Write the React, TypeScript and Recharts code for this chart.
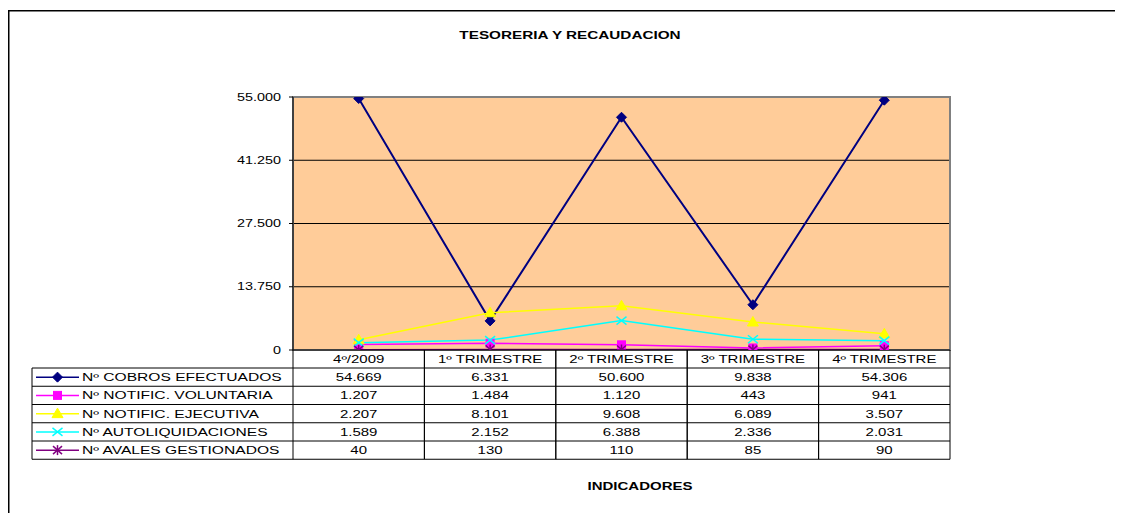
import React from 'react';
import { LineChart, Line, XAxis, YAxis, CartesianGrid, ReferenceArea } from 'recharts';

const categories = ['4º/2009', '1º TRIMESTRE', '2º TRIMESTRE', '3º TRIMESTRE', '4º TRIMESTRE'];
const cobros = [54669, 6331, 50600, 9838, 54306];
const voluntaria = [1207, 1484, 1120, 443, 941];
const ejecutiva = [2207, 8101, 9608, 6089, 3507];
const autoliq = [1589, 2152, 6388, 2336, 2031];
const avales = [40, 130, 110, 85, 90];
const yTicks = [0, 13750, 27500, 41250, 55000];
const gridValues = [13750, 27500, 41250];
const seriesNames = ['Nº COBROS EFECTUADOS', 'Nº NOTIFIC. VOLUNTARIA', 'Nº NOTIFIC. EJECUTIVA', 'Nº AUTOLIQUIDACIONES', 'Nº AVALES GESTIONADOS'];
const seriesColors = ['#000080', '#FF00FF', '#FFFF00', '#00FFFF', '#800080'];
const seriesShapes = ['diamond', 'square', 'triangle', 'x', 'asterisk'];
const seriesValues = [cobros, voluntaria, ejecutiva, autoliq, avales];
const title = 'TESORERIA Y RECAUDACION';
const xTitle = 'INDICADORES';

const data = categories.map((c, i) => {
  const row: any = { cat: c };
  seriesValues.forEach((vals, s) => { row['s' + s] = vals[i]; });
  return row;
});

const W = 1115;
const H = 505;
const PLOT_LEFT = 285;
const PLOT_RIGHT = 942;
const PLOT_TOP = 89;
const PLOT_BOTTOM = 342;
const YAXIS_W = 80;
const XAXIS_H = 110;
const BW = (PLOT_RIGHT - PLOT_LEFT) / categories.length;
const HEADER_H = 18;
const ROW_H = 18.25;
const LEGEND_W = 261;
const FONT = 'Liberation Sans, Arial, sans-serif';
const SX = 1.5;

const fmt = (n: number) => String(n).replace(/\B(?=(\d{3})+(?!\d))/g, '.');

const ST = ({ x, y, anchor = 'middle', bold = false, size = 10, sx = SX, children }: any) => (
  <text
    transform={`translate(${x},${y}) scale(${sx},1)`}
    textAnchor={anchor}
    fontSize={size}
    fontFamily={FONT}
    fontWeight={bold ? 'bold' : 'normal'}
    fill="#000"
  >
    {children}
  </text>
);

const Marker = ({ shape, cx, cy, color }: any) => {
  if (cx == null || cy == null) return <g />;
  switch (shape) {
    case 'diamond':
      return <polygon points={`${cx},${cy - 5} ${cx + 5},${cy} ${cx},${cy + 5} ${cx - 5},${cy}`} fill={color} stroke={color} />;
    case 'square':
      return <rect x={cx - 4} y={cy - 4} width={8} height={8} fill={color} stroke={color} />;
    case 'triangle':
      return <polygon points={`${cx},${cy - 5.5} ${cx + 5.5},${cy + 4} ${cx - 5.5},${cy + 4}`} fill={color} stroke={color} />;
    case 'x':
      return (
        <g stroke={color} strokeWidth={1.5}>
          <line x1={cx - 5} y1={cy - 4} x2={cx + 5} y2={cy + 4} />
          <line x1={cx - 5} y1={cy + 4} x2={cx + 5} y2={cy - 4} />
        </g>
      );
    default:
      return (
        <g stroke={color} strokeWidth={1.5}>
          <line x1={cx - 4.5} y1={cy - 4} x2={cx + 4.5} y2={cy + 4} />
          <line x1={cx - 4.5} y1={cy + 4} x2={cx + 4.5} y2={cy - 4} />
          <line x1={cx} y1={cy - 5} x2={cx} y2={cy + 5} />
        </g>
      );
  }
};

const TableTick = (props: any) => {
  const { x, y, payload } = props;
  const i = categories.indexOf(payload.value);
  const left = x - BW / 2;
  const right = x + BW / 2;
  const bottom = y + HEADER_H + seriesNames.length * ROW_H;
  const els: any[] = [];
  els.push(<line key="vl" x1={left} y1={y} x2={left} y2={bottom} stroke="#000" strokeWidth={1} />);
  els.push(<line key="vr" x1={right} y1={y} x2={right} y2={bottom} stroke="#000" strokeWidth={1} />);
  for (let r = 0; r <= seriesNames.length; r++) {
    const ly = y + HEADER_H + r * ROW_H;
    els.push(<line key={'h' + r} x1={left} y1={ly} x2={right} y2={ly} stroke="#000" strokeWidth={1} />);
  }
  els.push(<ST key="hd" x={x} y={y + 13}>{payload.value}</ST>);
  seriesValues.forEach((vals, s) => {
    els.push(<ST key={'v' + s} x={x} y={y + HEADER_H + s * ROW_H + 13}>{fmt(vals[i])}</ST>);
  });
  if (i === 0) {
    const lx = left - LEGEND_W;
    els.push(<line key="lvl" x1={lx} y1={y + HEADER_H} x2={lx} y2={bottom} stroke="#000" strokeWidth={1} />);
    for (let r = 0; r <= seriesNames.length; r++) {
      const ly = y + HEADER_H + r * ROW_H;
      els.push(<line key={'lh' + r} x1={lx} y1={ly} x2={left} y2={ly} stroke="#000" strokeWidth={1} />);
    }
    seriesNames.forEach((name, s) => {
      const cy = y + HEADER_H + s * ROW_H + ROW_H / 2;
      els.push(<line key={'ll' + s} x1={lx + 4} y1={cy} x2={lx + 47} y2={cy} stroke={seriesColors[s]} strokeWidth={1.5} />);
      els.push(<g key={'lm' + s}><Marker shape={seriesShapes[s]} cx={lx + 25.5} cy={cy} color={seriesColors[s]} /></g>);
      els.push(<ST key={'ln' + s} x={lx + 50} y={cy + 4} anchor="start" sx={1.56}>{name}</ST>);
    });
  }
  return <g>{els}</g>;
};

const YTick = (props: any) => {
  const { x, y, payload } = props;
  return <ST x={x} y={y + 3.5} anchor="end" sx={1.44}>{fmt(payload.value)}</ST>;
};

export default function App() {
  return (
    <div style={{ position: 'relative', width: W, height: H }}>
      <style>{'html,body{overflow:hidden;}'}</style>
      <LineChart
        width={W}
        height={H}
        data={data}
        margin={{ top: PLOT_TOP, right: W - PLOT_RIGHT, left: PLOT_LEFT - YAXIS_W, bottom: H - PLOT_BOTTOM - XAXIS_H }}
      >
        <CartesianGrid fill="#FFCC99" fillOpacity={1} vertical={false} stroke="#000" strokeWidth={1} horizontalValues={gridValues} />
        <ReferenceArea y1={0} y2={55000} fill="none" fillOpacity={0} stroke="#808080" strokeWidth={2} />
        <XAxis
          dataKey="cat"
          scale="band"
          height={XAXIS_H}
          interval={0}
          tickSize={0}
          tickMargin={0}
          tickLine={false}
          axisLine={{ stroke: '#000', strokeWidth: 1 }}
          tick={<TableTick />}
        />
        <YAxis
          width={YAXIS_W}
          domain={[0, 55000]}
          ticks={yTicks}
          interval={0}
          tickSize={4}
          tickMargin={8}
          tickLine={{ stroke: '#000' }}
          axisLine={{ stroke: '#000', strokeWidth: 1 }}
          tick={<YTick />}
          allowDataOverflow
        />
        {seriesNames.map((name, s) => (
          <Line
            key={name}
            name={name}
            dataKey={'s' + s}
            stroke={seriesColors[s]}
            strokeWidth={s === 0 ? 2 : 1.5}
            isAnimationActive={false}
            activeDot={false}
            dot={(p: any) => <g key={p.key || name + p.index}><Marker shape={seriesShapes[s]} cx={p.cx} cy={p.cy} color={seriesColors[s]} /></g>}
          />
        ))}
      </LineChart>
      <svg width={W} height={H} style={{ position: 'absolute', left: 0, top: 0, pointerEvents: 'none' }}>
        <line x1={0.75} y1={2} x2={0.75} y2={H} stroke="#000" strokeWidth={1.5} />
        <line x1={0} y1={2.75} x2={W} y2={2.75} stroke="#000" strokeWidth={1.5} />
        <ST x={562} y={31} bold sx={1.53}>{title}</ST>
        <ST x={632} y={482} bold>{xTitle}</ST>
      </svg>
    </div>
  );
}
